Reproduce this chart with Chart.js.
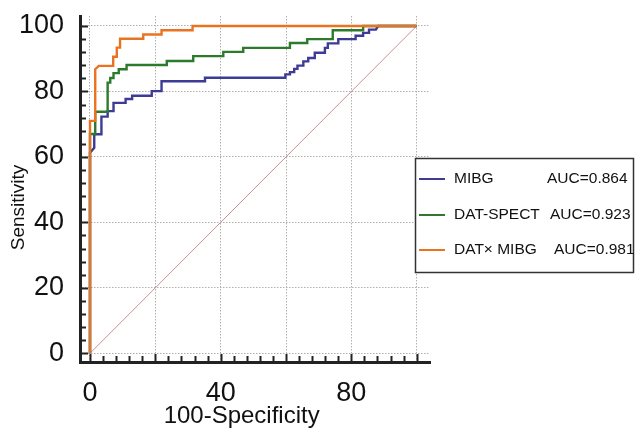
<!DOCTYPE html>
<html>
<head>
<meta charset="utf-8">
<script src="https://cdn.jsdelivr.net/npm/chart.js@4/dist/chart.umd.min.js"></script>
<style>
  html, body { margin: 0; padding: 0; background: #ffffff; }
  #c { display: block; }
</style>
</head>
<body>
<canvas id="c" width="636" height="430"></canvas>
<script>
// ---- data ----
const seriesNames = ['MIBG', 'DAT-SPECT', 'DAT\u00D7 MIBG'];
const aucLabels = ['AUC=0.864', 'AUC=0.923', 'AUC=0.981'];

const mibgX = [0, 0, 1.3, 1.3, 3.5, 3.5, 5.4, 5.4, 7.2, 7.2, 10.9, 10.9, 12.9, 12.9, 18.9, 18.9, 21.9, 21.9, 35.2, 35.2, 59.8, 59.8, 61.2, 61.2, 62.5, 62.5, 63.5, 63.5, 65.3, 65.3, 66.8, 66.8, 68.8, 68.8, 71.9, 71.9, 72.8, 72.8, 76, 76, 81.3, 81.3, 83.6, 83.6, 85.4, 85.4, 87.5, 88.2, 100];
const mibgY = [0, 61.3, 62.8, 66.9, 66.9, 72.3, 72.3, 74, 74, 76.5, 76.5, 77.7, 77.7, 78.7, 78.7, 80.1, 80.1, 83.1, 83.1, 84.2, 84.2, 85.2, 85.2, 85.9, 85.9, 86.9, 86.9, 87.9, 87.9, 89.2, 89.2, 90.2, 90.2, 91.8, 91.8, 93.3, 93.3, 94.7, 94.7, 96, 96, 97, 97, 97.9, 97.9, 98.9, 98.9, 100, 100];

const datX = [0, 0, 1.6, 1.6, 5.4, 5.4, 6.2, 6.2, 7.2, 7.2, 8.8, 8.8, 11.2, 11.2, 23.5, 23.5, 31.6, 31.6, 40.8, 40.8, 46.9, 46.9, 61.2, 61.2, 66.5, 66.5, 74.3, 74.3, 83.6, 83.6, 100];
const datY = [0, 67, 67, 73.8, 73.8, 82.7, 82.7, 84.1, 84.1, 85.6, 85.6, 86.8, 86.8, 88.1, 88.1, 89.3, 89.3, 90.8, 90.8, 92.1, 92.1, 93.3, 93.3, 94.8, 94.8, 96, 96, 98.7, 98.7, 100, 100];

const comboX = [0, 0, 1.6, 1.6, 2.7, 7.1, 7.1, 8.2, 8.2, 9.2, 9.2, 16.3, 16.3, 21.9, 21.9, 31.4, 31.4, 100];
const comboY = [0, 71, 71, 86.8, 87.8, 87.8, 90.6, 90.6, 93.4, 93.4, 96.1, 96.1, 97.4, 97.4, 98.7, 98.7, 100, 100];

const refX = [0, 100];
const refY = [0, 100];

const xTickValues = [0,4,8,12,16,20,24,28,32,36,40,44,48,52,56,60,64,68,72,76,80,84,88,92,96,100];
const yTickValues = [0,4,8,12,16,20,24,28,32,36,40,44,48,52,56,60,64,68,72,76,80,84,88,92,96,100];
const xTickLabels = [0, 40, 80];
const yTickLabels = [0, 20, 40, 60, 80, 100];
const gridValues = [0, 20, 40, 60, 80, 100];

// ---- styles ----
const FONT = 'Liberation Sans, Arial, Helvetica, sans-serif';
const colors = ['#3d3b96', '#2c7a2c', '#ea7322'];
const refColor = '#c49494';

function pts(xs, ys) { return xs.map((x, i) => ({ x: x, y: ys[i] })); }

const lineDefaults = { showLine: true, pointRadius: 0, borderWidth: 2.4, tension: 0, fill: false };

const datasets = [
  Object.assign({ label: seriesNames[0], data: pts(mibgX, mibgY), borderColor: colors[0], order: 2 }, lineDefaults),
  Object.assign({ label: seriesNames[1], data: pts(datX, datY), borderColor: colors[1], order: 1 }, lineDefaults),
  Object.assign({ label: seriesNames[2], data: pts(comboX, comboY), borderColor: colors[2], order: 0 }, lineDefaults),
  Object.assign({}, lineDefaults, { label: 'reference', data: pts(refX, refY), borderColor: refColor, borderWidth: 1, order: 3 })
];

// inward tick marks, drawn at the library's scale positions
const tickMarks = {
  id: 'tickMarks',
  afterDraw(chart) {
    const ctx = chart.ctx, xs = chart.scales.x, ys = chart.scales.y, a = chart.chartArea;
    ctx.save();
    ctx.strokeStyle = '#222';
    ctx.lineWidth = 2;
    ctx.beginPath();
    xTickValues.forEach(v => {
      const px = Math.round(xs.getPixelForValue(v)) + 0.5;
      const len = (v % 20 === 0) ? 8 : 6;
      ctx.moveTo(px, a.bottom);
      ctx.lineTo(px, a.bottom - len);
    });
    yTickValues.forEach(v => {
      const py = Math.round(ys.getPixelForValue(v)) + 0.5;
      const len = (v % 20 === 0) ? 8 : 6;
      ctx.moveTo(a.left, py);
      ctx.lineTo(a.left + len, py);
    });
    ctx.stroke();
    ctx.restore();
  }
};

// boxed legend to the right of the plot
const boxLegend = {
  id: 'boxLegend',
  afterDraw(chart) {
    const ctx = chart.ctx;
    const bx = 415.5, by = 158.5, bw = 218, bh = 114;
    ctx.save();
    ctx.fillStyle = '#ffffff';
    ctx.fillRect(bx, by, bw, bh);
    ctx.strokeStyle = '#333';
    ctx.lineWidth = 1.5;
    ctx.strokeRect(bx, by, bw, bh);
    const rowY = [179, 215, 250];
    const aucX = [547, 550, 554];
    ctx.font = '15.5px ' + FONT;
    ctx.textBaseline = 'middle';
    ctx.textAlign = 'left';
    for (let i = 0; i < 3; i++) {
      ctx.strokeStyle = colors[i];
      ctx.lineWidth = 2;
      ctx.beginPath();
      ctx.moveTo(419, rowY[i]);
      ctx.lineTo(445, rowY[i]);
      ctx.stroke();
      ctx.fillStyle = '#111';
      ctx.fillText(seriesNames[i], 454, rowY[i]);
      ctx.fillText(aucLabels[i], aucX[i], rowY[i]);
    }
    ctx.restore();
  }
};

new Chart(document.getElementById('c'), {
  type: 'scatter',
  data: { datasets: datasets },
  plugins: [tickMarks, boxLegend],
  options: {
    responsive: false,
    animation: false,
    devicePixelRatio: 1,
    layout: { padding: { left: 0, right: 206, top: 16, bottom: 0 } },
    plugins: { legend: { display: false }, tooltip: { enabled: false } },
    scales: {
      x: {
        type: 'linear', min: -3.06, max: 104.07,
        afterBuildTicks: s => { s.ticks = xTickValues.map(v => ({ value: v })); },
        afterFit: s => { s.height = 68; s.paddingLeft = 0; s.paddingRight = 0; },
        grid: {
          color: c => (c.tick && gridValues.includes(c.tick.value)) ? '#b0b0b0' : 'rgba(0,0,0,0)',
          lineWidth: 1, drawTicks: false
        },
        border: { display: true, color: '#222', width: 3, dash: [1.5, 1.5] },
        ticks: {
          autoSkip: false, maxRotation: 0, padding: 15, color: '#111',
          font: { size: 27, family: FONT },
          callback: v => xTickLabels.includes(v) ? String(v) : ''
        },
        title: {
          display: true, text: '100-Specificity    ', color: '#111',
          font: { size: 24, family: FONT, lineHeight: 1.1 }, padding: { top: 0, bottom: 0 }
        }
      },
      y: {
        type: 'linear', min: -2.66, max: 103.05,
        afterBuildTicks: s => { s.ticks = yTickValues.map(v => ({ value: v })); },
        afterFit: s => { s.width = 80; s.paddingTop = 0; s.paddingBottom = 0; },
        grid: {
          color: c => (c.tick && gridValues.includes(c.tick.value)) ? '#b0b0b0' : 'rgba(0,0,0,0)',
          lineWidth: 1, drawTicks: false
        },
        border: { display: true, color: '#222', width: 3, dash: [1.5, 1.5] },
        ticks: {
          autoSkip: false, padding: 16, color: '#111',
          font: { size: 27, family: FONT },
          callback: v => yTickLabels.includes(v) ? String(v) : ''
        },
        title: {
          display: true, text: 'Sensitivity       ', color: '#111',
          font: { size: 19, family: FONT }, padding: { top: 7, bottom: 0 }
        }
      }
    }
  }
});
</script>
</body>
</html>
